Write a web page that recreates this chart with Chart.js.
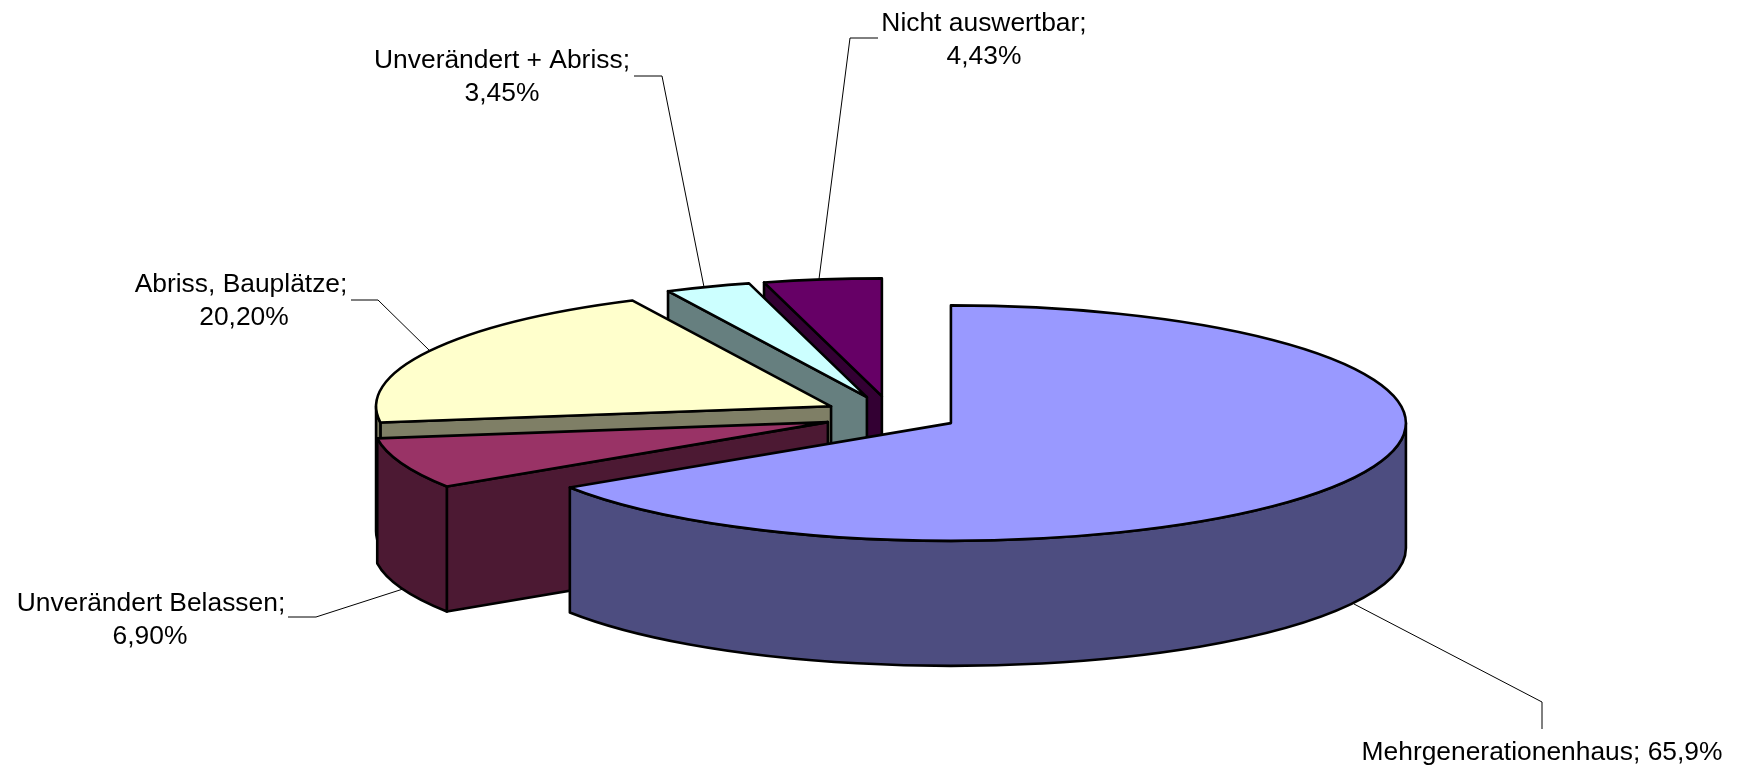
<!DOCTYPE html>
<html>
<head>
<meta charset="utf-8">
<title>Mehrgenerationenhaus</title>
<script src="https://cdn.jsdelivr.net/npm/chart.js"></script>
<style>
  html, body { margin: 0; padding: 0; background: #fff; }
  canvas { display: block; }
</style>
</head>
<body>
<canvas id="pie3d" width="1740" height="770"></canvas>
<script>
const categories = ["Mehrgenerationenhaus", "Unverändert Belassen", "Abriss, Bauplätze", "Unverändert + Abriss", "Nicht auswertbar"];
// shares as drawn in the picture (the printed percentages do not add up to 100)
const shares = [65.8, 7.0, 20.0, 3.03, 4.17];
const percentLabels = ["65,9%", "6,90%", "20,20%", "3,45%", "4,43%"];

const topColors = ["#9999ff", "#993366", "#ffffcc", "#ccffff", "#660066"];
const sideColors = ["#4d4d80", "#4c1933", "#7f7f66", "#667f7f", "#330033"];

// how far each slice is pulled out, as a fraction of the radius
const explodeX = [0.136, 0.161, 0.163, 0.186, 0.246];
const explodeY = [0.136, 0.161, 0.166, 0.167, 0.166];

const squash = 0.2587;
const depth = 125;

// text anchor (centre x, first baseline) and leader line for each label
const labelLayout = [
  { x: 1542, y: 760, oneLine: true, line: [[1542, 729], [1542, 702], [1354, 604]] },
  { x: 151, y: 611, pctX: 150, line: [[288, 617], [316, 617], [403, 589]] },
  { x: 241, y: 292, pctX: 244, line: [[351, 300], [378, 300], [429, 350]] },
  { x: 502, y: 68, line: [[634, 76], [662, 76], [704, 287]] },
  { x: 984, y: 31, line: [[878, 38], [850, 38], [819, 279]] }
];

function drawSlice(ctx, arc, i) {
  const rx = arc.outerRadius;
  const ry = rx * squash;
  const a0 = arc.startAngle;
  const a1 = arc.endAngle;
  const midA = (a0 + a1) / 2;
  const cx = arc.x + Math.cos(midA) * rx * explodeX[i];
  const cy = arc.y + Math.sin(midA) * ry * explodeY[i];
  const px = (a) => cx + Math.cos(a) * rx;
  const py = (a) => cy + Math.sin(a) * ry;

  ctx.lineWidth = 2.6;
  ctx.lineJoin = "round";
  ctx.strokeStyle = "#000";

  const edgeWall = (a) => {
    ctx.beginPath();
    ctx.moveTo(cx, cy);
    ctx.lineTo(px(a), py(a));
    ctx.lineTo(px(a), py(a) + depth);
    ctx.lineTo(cx, cy + depth);
    ctx.closePath();
    ctx.fillStyle = sideColors[i];
    ctx.fill();
    ctx.stroke();
  };

  // only the cut faces turned to the viewer
  if (Math.cos(a1) > 0.001) edgeWall(a1);
  if (Math.cos(a0) < -0.001) edgeWall(a0);

  // front part of the rim
  const lo = Math.max(a0, 0);
  const hi = Math.min(a1, Math.PI);
  if (hi > lo) {
    ctx.beginPath();
    ctx.ellipse(cx, cy, rx, ry, 0, lo, hi);
    ctx.lineTo(px(hi), py(hi) + depth);
    ctx.ellipse(cx, cy + depth, rx, ry, 0, hi, lo, true);
    ctx.closePath();
    ctx.fillStyle = sideColors[i];
    ctx.fill();
    ctx.stroke();
  }

  // top face
  ctx.beginPath();
  ctx.moveTo(cx, cy);
  ctx.ellipse(cx, cy, rx, ry, 0, a0, a1);
  ctx.closePath();
  ctx.fillStyle = topColors[i];
  ctx.fill();
  ctx.stroke();
}

const pie3d = {
  id: "pie3d",
  beforeDatasetsDraw(chart) {
    const ctx = chart.ctx;
    const arcs = chart.getDatasetMeta(0).data;
    ctx.save();
    for (let i = arcs.length - 1; i >= 0; i--) {
      drawSlice(ctx, arcs[i], i);
    }
    ctx.restore();
    return false;
  },
  afterDraw(chart) {
    const ctx = chart.ctx;
    ctx.save();
    ctx.font = "26.4px 'Liberation Sans', Arial, sans-serif";
    ctx.textAlign = "center";
    ctx.textBaseline = "alphabetic";
    ctx.fillStyle = "#000";
    ctx.strokeStyle = "#000";
    ctx.lineWidth = 1;
    labelLayout.forEach((lab, i) => {
      if (lab.oneLine) {
        ctx.fillText(categories[i] + "; " + percentLabels[i], lab.x, lab.y);
      } else {
        ctx.fillText(categories[i] + ";", lab.x, lab.y);
        ctx.fillText(percentLabels[i], lab.pctX || lab.x, lab.y + 33);
      }
      ctx.beginPath();
      lab.line.forEach((p, k) => {
        if (k === 0) ctx.moveTo(p[0], p[1]);
        else ctx.lineTo(p[0], p[1]);
      });
      ctx.stroke();
    });
    ctx.restore();
  }
};

new Chart(document.getElementById("pie3d"), {
  type: "pie",
  data: {
    labels: categories,
    datasets: [{ data: shares, backgroundColor: topColors, borderWidth: 0 }]
  },
  options: {
    responsive: false,
    animation: false,
    radius: 455,
    events: [],
    layout: { padding: { left: 53, top: 61 } },
    plugins: {
      legend: { display: false },
      tooltip: { enabled: false },
      title: { display: false }
    }
  },
  plugins: [pie3d]
});
</script>
</body>
</html>
